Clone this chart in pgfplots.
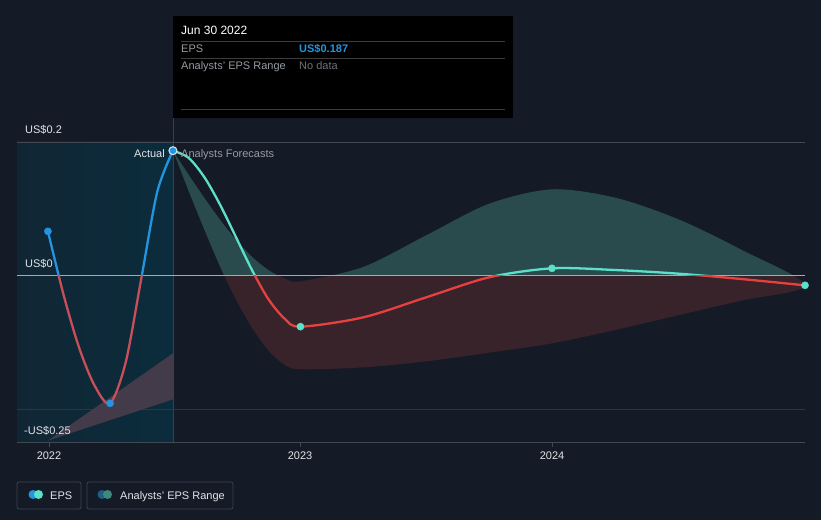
\documentclass[border=0pt]{standalone}
\usepackage{pgfplots}
\pgfplotsset{compat=1.18}
\usepackage{fontspec}
\setmainfont{Liberation Sans}
\definecolor{bg}{RGB}{21,27,38}
\definecolor{hlL}{RGB}{17,38,53}
\definecolor{hlR}{RGB}{11,44,60}
\definecolor{gridc}{RGB}{66,72,82}
\definecolor{gridc2}{RGB}{48,54,64}
\definecolor{zeroc}{RGB}{166,169,174}
\definecolor{blueL}{RGB}{35,148,223}
\definecolor{redpast}{RGB}{200,78,88}
\definecolor{redfc}{RGB}{230,65,63}
\definecolor{tealL}{RGB}{92,224,201}
\definecolor{bandT}{RGB}{42,75,78}
\definecolor{bandR}{RGB}{56,35,43}
\definecolor{wedge}{RGB}{67,59,74}
\definecolor{vline}{RGB}{30,74,92}
\definecolor{lbl}{RGB}{226,228,232}
\definecolor{grey1}{RGB}{150,155,162}
\definecolor{grey2}{RGB}{110,114,120}
\definecolor{legbd}{RGB}{62,68,78}
\definecolor{legR1}{RGB}{31,95,134}
\definecolor{legR2}{RGB}{59,138,128}
\definecolor{ttline}{RGB}{60,60,60}
% x values: years after 2022.0
\pgfplotstableread{
x y
-0.004 0.066
0.058 -0.029
0.1195 -0.108
0.181 -0.165
0.243 -0.192
0.3055 -0.130
0.368 -0.003
0.4305 0.125
0.493 0.187
}\actual
\pgfplotstableread{
x y
0.493 0.187
0.556 0.176
0.620 0.146
0.683 0.104
0.7465 0.055
0.810 0.006
0.873 -0.036
0.937 -0.065
1.0 -0.077
1.25 -0.063
1.5 -0.033
1.75 -0.003
2.0 0.0105
2.25 0.008
2.503 0.0025
2.755 -0.0056
3.006 -0.015
}\forecast
% analysts' range: upper edge left to right, then lower edge right to left
\pgfplotstableread{
x y
0.493 0.187
0.556 0.1505
0.620 0.115
0.683 0.082
0.7465 0.052
0.810 0.027
0.873 0.0078
0.937 -0.0046
1.0 -0.009
1.25 0.0126
1.5 0.060
1.75 0.1074
2.0 0.129
2.25 0.1166
2.503 0.084
2.755 0.038
3.006 -0.015
2.75 -0.038
2.5 -0.060
2.25 -0.082
2.0 -0.102
1.75 -0.116
1.5 -0.129
1.25 -0.138
1.0 -0.141
0.937 -0.134
0.873 -0.113
0.810 -0.080
0.7465 -0.0385
0.683 0.011
0.620 0.0667
0.556 0.126
}\band
\begin{document}
\begin{tikzpicture}
\begin{scope}[x=1pt,y=-1pt,yshift=520pt]
\fill[bg] (0,0) rectangle (821,520);
\shade[left color=hlL,right color=hlR] (17,142) rectangle (173,442);
\draw[gridc, line width=0.8pt] (17,142) -- (805,142);
\draw[gridc2, line width=0.8pt] (17,409) -- (805,409);
\draw[gridc, line width=0.8pt] (17,442) -- (805,442);
\draw[vline, line width=0.8pt] (173,118) -- (173,442);
\fill[black] (173,16) rectangle (513,118);
\end{scope}
\begin{axis}[at={(17pt,78pt)}, anchor=south west, scale only axis,
  width=788pt, height=300pt,
  xmin=-0.127, xmax=3.006, ymin=-0.25, ymax=0.2,
  axis lines=none, clip=true]
\addplot[fill=wedge, draw=none] coordinates {(-0.004,-0.248) (0.493,-0.117) (0.493,-0.186)} -- cycle;
\begin{scope}
\clip (axis cs:-0.2,0) rectangle (axis cs:3.1,0.3);
\addplot[fill=bandT, draw=none, smooth, tension=0.5] table {\band} -- cycle;
\end{scope}
\begin{scope}
\clip (axis cs:-0.2,-0.3) rectangle (axis cs:3.1,0);
\addplot[fill=bandR, draw=none, smooth, tension=0.5] table {\band} -- cycle;
\end{scope}
\addplot[zeroc, line width=1pt] coordinates {(-0.127,0) (3.006,0)};
\begin{scope}
\clip (axis cs:-0.2,0) rectangle (axis cs:3.1,0.3);
\addplot[blueL, line width=2.3pt, smooth, tension=0.5] table {\actual};
\addplot[tealL, line width=2.3pt, smooth, tension=0.5] table {\forecast};
\end{scope}
\begin{scope}
\clip (axis cs:-0.2,-0.3) rectangle (axis cs:3.1,0);
\addplot[redpast, line width=2.3pt, smooth, tension=0.5] table {\actual};
\addplot[redfc, line width=2.3pt, smooth, tension=0.5] table {\forecast};
\end{scope}
\addplot[only marks, mark=*, mark size=3.6pt, color=blueL] coordinates {(-0.004,0.066) (0.243,-0.192)};
\addplot[only marks, mark=*, mark size=3.6pt, color=tealL] coordinates {(1.0,-0.077) (2.0,0.0105) (3.006,-0.015)};
\addplot[only marks, mark=*, mark size=4pt, mark options={draw=lbl, fill=blueL, line width=1pt}] coordinates {(0.493,0.187)};
\end{axis}
\begin{scope}[x=1pt,y=-1pt,yshift=520pt]
\fontsize{11}{13}\selectfont
\node[anchor=base west, text=lbl, inner sep=0] at (25,134) {US\$0.2};
\node[anchor=base west, text=lbl, inner sep=0] at (25,267) {US\$0};
\node[anchor=base west, text=lbl, inner sep=0] at (24,434) {-US\$0.25};
\foreach \xx/\lab in {49/2022,300/2023,552/2024}{
  \draw[gridc, line width=0.8pt] (\xx,442) -- (\xx,447);
  \node[anchor=base, text=lbl, inner sep=0] at (\xx,459) {\lab};
}
\node[anchor=base east, text=lbl, inner sep=0] at (165,158) {Actual};
\node[anchor=base west, text=grey1, inner sep=0] at (181,158) {Analysts Forecasts};
\node[anchor=base west, text=white, inner sep=0] at (181,35) {\fontsize{12}{14}\selectfont Jun 30 2022};
\draw[ttline, line width=0.8pt] (181,41) -- (505,41);
\draw[ttline, line width=0.8pt] (181,58) -- (505,58);
\draw[ttline, line width=0.8pt] (181,109) -- (505,109);
\node[anchor=base west, text=grey1, inner sep=0] at (181,53) {EPS};
\node[anchor=base west, text=blueL, inner sep=0] at (299,53) {\bfseries US\$0.187};
\node[anchor=base west, text=grey1, inner sep=0] at (181,70) {Analysts' EPS Range};
\node[anchor=base west, text=grey2, inner sep=0] at (299,70) {No data};
\draw[legbd, line width=0.8pt, rounded corners=2pt] (17,482) rectangle (81,509);
\fill[blueL] (33,494.5) circle (4.5);
\fill[tealL] (38.5,494.5) circle (4.5);
\node[anchor=base west, text=lbl, inner sep=0] at (50,499) {EPS};
\draw[legbd, line width=0.8pt, rounded corners=2pt] (87,482) rectangle (233,509);
\fill[legR1] (102,494.5) circle (4.5);
\fill[legR2] (107.5,494.5) circle (4.5);
\node[anchor=base west, text=lbl, inner sep=0] at (120,499) {Analysts' EPS Range};
\end{scope}
\end{tikzpicture}
\end{document}
